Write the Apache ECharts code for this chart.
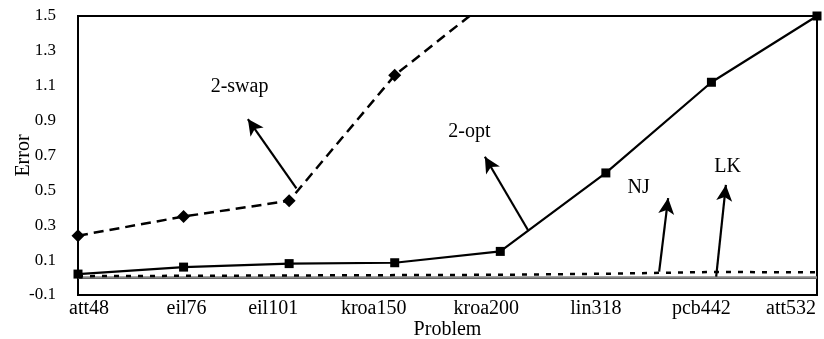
<!DOCTYPE html>
<html><head><meta charset="utf-8">
<script src="https://cdn.jsdelivr.net/npm/echarts@6/dist/echarts.min.js"></script>
<style>html,body{margin:0;padding:0;background:#fff}#c{width:824px;height:339px}</style>
</head><body><div id="c"></div>
<script>
// ---- data ----
const categories = ['att48','eil76','eil101','kroa150','kroa200','lin318','pcb442','att532'];
const twoOpt  = [0.02, 0.06, 0.08, 0.085, 0.15, 0.60, 1.12, 1.50];
const twoSwap = [0.24, 0.35, 0.44, 1.16, 1.64];
const nj      = [0.008, 0.010, 0.012, 0.014, 0.016, 0.022, 0.032, 0.030];
const lk      = [0, 0, 0, 0, 0, 0, 0, 0];
// annotation labels and arrows (x in category-index units, y in Error units)
const noteLabels = ['2-swap', '2-opt', 'NJ', 'LK'];
const notePos    = [[1.53, 1.093], [3.707, 0.835], [5.31, 0.514], [6.154, 0.634]];
const arrowFrom  = [[2.069, 0.512], [4.262, 0.273], [5.505, 0.034], [6.045, 0.005]];
const arrowTo    = [[1.609, 0.909], [3.854, 0.693], [5.59, 0.456], [6.137, 0.531]];

// ---- layout / style ----
const FONT = 'Liberation Serif';
const labelShift = [11, 3, -16, -21, -14, -10, -10, -26];
const catData = categories.map((c, i) => {
  const d = labelShift[i];
  return { value: c, textStyle: { padding: d >= 0 ? [0, 0, 0, 2 * d] : [0, -2 * d, 0, 0] } };
});

const chart = echarts.init(document.getElementById('c'), null, { renderer: 'canvas' });
chart.setOption({
  animation: false,
  backgroundColor: '#fff',
  textStyle: { fontFamily: FONT, color: '#000' },
  grid: { left: 78, right: 7, top: 16, bottom: 44, show: true, borderColor: '#000', borderWidth: 2,
          containLabel: false, outerBoundsMode: 'none' },
  xAxis: [{
    type: 'category', data: catData, boundaryGap: false,
    axisLine: { lineStyle: { color: '#000', width: 2 } },
    axisTick: { show: false },
    axisLabel: { color: '#000', fontSize: 20, fontFamily: FONT, margin: 4 },
    splitLine: { show: false },
    name: 'Problem', nameLocation: 'middle', nameGap: 25, nameMoveOverlap: false,
    nameTextStyle: { color: '#000', fontSize: 20, fontFamily: FONT }
  }, {
    type: 'value', min: 0, max: 7, show: false
  }],
  yAxis: {
    type: 'value', min: -0.1, max: 1.5, interval: 0.2,
    axisLine: { show: true, lineStyle: { color: '#000', width: 2 } },
    axisTick: { show: false },
    splitLine: { show: false },
    axisLabel: { color: '#000', fontSize: 17, fontFamily: FONT, margin: 22, formatter: v => v.toFixed(1) },
    name: 'Error', nameLocation: 'middle', nameGap: 44, nameRotate: 90, nameMoveOverlap: false,
    nameTextStyle: { color: '#000', fontSize: 20, fontFamily: FONT }
  },
  series: [
    { name: 'LK', type: 'line', data: lk, symbol: 'none', clip: true,
      lineStyle: { color: '#888', width: 2.5 } },
    { name: 'NJ', type: 'line', data: nj, symbol: 'none', clip: true,
      lineStyle: { color: '#000', width: 2.5, type: [5, 7] } },
    { name: '2-opt', type: 'line', data: twoOpt, symbol: 'rect', symbolSize: 9, clip: true,
      itemStyle: { color: '#000' }, lineStyle: { color: '#000', width: 2.2 } },
    { name: '2-swap', type: 'line', data: twoSwap, symbol: 'diamond', symbolSize: 13, clip: true,
      itemStyle: { color: '#000' }, lineStyle: { color: '#000', width: 2.5, type: [10, 6] } },
    { name: 'notes', type: 'scatter', xAxisIndex: 1,
      data: notePos.map((p, i) => ({ value: p, name: noteLabels[i] })),
      symbolSize: 1, itemStyle: { color: 'rgba(0,0,0,0)' }, silent: true,
      label: { show: true, position: 'inside', formatter: p => p.name, color: '#000',
               textBorderWidth: 0, textShadowBlur: 0, opacity: 1, fontSize: 20, fontFamily: FONT },
      markLine: {
        silent: true, symbol: ['none', 'arrow'], symbolSize: [12, 16],
        lineStyle: { color: '#000', width: 2.2, type: 'solid' },
        label: { show: false },
        data: arrowFrom.map((f, i) => [{ coord: f }, { coord: arrowTo[i] }])
      }
    }
  ]
});
</script></body></html>
